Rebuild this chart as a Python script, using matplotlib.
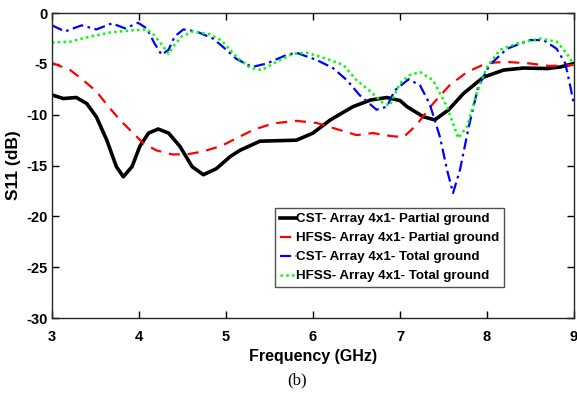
import matplotlib
matplotlib.use("Agg")
import matplotlib.pyplot as plt

# ---- data ----
f_cst_partial = [3.0, 3.13, 3.28, 3.4, 3.51, 3.63, 3.74, 3.82, 3.92, 4.01, 4.11, 4.22, 4.34,
                 4.47, 4.61, 4.74, 4.89, 5.05, 5.16, 5.39, 5.81, 6.0, 6.2, 6.46, 6.66, 6.85,
                 7.0, 7.08, 7.27, 7.4, 7.56, 7.73, 7.96, 8.19, 8.42, 8.69, 8.84, 9.0]
s_cst_partial = [-8.05, -8.4, -8.3, -8.9, -10.2, -12.5, -15.1, -16.1, -15.1, -13.1, -11.8,
                 -11.4, -11.8, -13.1, -15.1, -15.9, -15.3, -14.1, -13.5, -12.6, -12.5, -11.8,
                 -10.5, -9.2, -8.55, -8.3, -8.6, -9.2, -10.2, -10.5, -9.5, -7.9, -6.3, -5.6,
                 -5.4, -5.45, -5.3, -4.95]

f_hfss_partial = [3.0, 3.21, 3.36, 3.51, 3.65, 3.78, 3.92, 4.05, 4.2, 4.38, 4.55, 4.74, 4.95,
                  5.31, 5.54, 5.81, 6.04, 6.27, 6.5, 6.69, 6.9, 7.04, 7.19, 7.38, 7.57, 7.77,
                  8.0, 8.23, 8.49, 8.72, 9.0]
s_hfss_partial = [-4.9, -5.6, -6.6, -7.7, -9.2, -10.5, -11.7, -12.8, -13.5, -13.9, -13.9,
                  -13.6, -13.05, -11.5, -10.85, -10.6, -10.8, -11.4, -12.0, -11.8, -12.1,
                  -12.2, -11.0, -8.9, -7.1, -5.8, -4.9, -4.8, -4.95, -5.2, -5.1]

f_cst_total = [3.0, 3.15, 3.34, 3.51, 3.69, 3.84, 3.99, 4.09, 4.18, 4.26, 4.34, 4.41, 4.51,
               4.66, 4.85, 4.95, 5.12, 5.3, 5.47, 5.7, 5.81, 6.04, 6.23, 6.39, 6.54, 6.73,
               6.85, 6.94, 7.1, 7.23, 7.34, 7.46, 7.54, 7.61, 7.69, 7.79, 7.9, 8.03, 8.23,
               8.49, 8.65, 8.8, 8.9, 8.95, 9.0]
s_cst_total = [-1.2, -1.8, -1.2, -1.6, -1.0, -1.5, -0.95, -1.5, -3.0, -4.1, -3.6, -2.3, -1.6,
               -1.8, -2.5, -3.2, -4.5, -5.3, -4.95, -4.1, -3.9, -4.6, -5.4, -6.6, -8.1, -9.5,
               -9.2, -7.6, -6.5, -7.1, -8.9, -12.2, -15.4, -17.7, -15.4, -11.2, -7.2, -5.1,
               -3.5, -2.65, -2.65, -3.5, -4.95, -6.9, -9.0]

f_hfss_total = [3.0, 3.21, 3.44, 3.67, 3.9, 4.09, 4.18, 4.28, 4.34, 4.39, 4.49, 4.62, 4.82,
                4.95, 5.12, 5.28, 5.41, 5.58, 5.77, 5.93, 6.16, 6.35, 6.5, 6.66, 6.8, 6.88,
                7.0, 7.11, 7.23, 7.38, 7.54, 7.67, 7.77, 7.88, 8.0, 8.15, 8.34, 8.61, 8.8,
                8.92, 9.0]
s_hfss_total = [-2.9, -2.8, -2.3, -1.9, -1.7, -1.6, -2.2, -3.3, -4.0, -3.3, -2.3, -1.8, -2.1,
                -2.7, -4.3, -5.4, -5.6, -4.8, -4.0, -3.9, -4.5, -5.1, -6.6, -7.7, -8.8, -9.1,
                -6.9, -6.1, -5.8, -6.6, -9.2, -12.3, -11.2, -7.9, -5.3, -3.6, -3.0, -2.5,
                -2.8, -4.0, -5.1]

labels = ["CST- Array 4x1- Partial ground", "HFSS- Array 4x1- Partial ground",
          "CST- Array 4x1- Total ground", "HFSS- Array 4x1- Total ground"]

plt.rcParams["font.family"] = ["Liberation Sans", "DejaVu Sans"]
plt.rcParams["font.weight"] = "bold"
plt.rcParams["axes.unicode_minus"] = False
plt.rcParams["lines.solid_joinstyle"] = "round"
plt.rcParams["lines.dash_joinstyle"] = "round"

fig = plt.figure(figsize=(5.77, 3.99), dpi=100)
ax = fig.add_axes([0.0901, 0.203, 0.9047, 0.764])

ax.plot(f_cst_partial, s_cst_partial, color="black", lw=2.6, ls="-", label=labels[0])
ax.plot(f_hfss_partial, s_hfss_partial, color="red", lw=1.6, ls=(0, (5, 3.5)), label=labels[1])
ax.plot(f_cst_total, s_cst_total, color="blue", lw=1.6, ls=(0, (5, 2, 1.2, 2)), label=labels[2])
ax.plot(f_hfss_total, s_hfss_total, color="#00ff00", lw=1.8, ls=(0, (1, 1.3)), label=labels[3])

ax.set_xlim(3, 9)
ax.set_ylim(-30, 0)
ax.set_xticks(range(3, 10))
ax.set_yticks(range(-30, 1, 5))
ax.tick_params(direction="in", top=True, right=True, labelsize=10.5, length=5, width=1)
ax.tick_params(axis="x", pad=8.5)
ax.tick_params(axis="y", pad=3)
for lab in ax.get_xticklabels() + ax.get_yticklabels():
    lab.set_fontweight("bold")
for sp in ax.spines.values():
    sp.set_linewidth(1.0)
    sp.set_color("#262626")

ax.set_xlabel("Frequency (GHz)", fontsize=11.5, fontweight="bold", labelpad=4)
ax.set_ylabel("S11 (dB)", fontsize=12.5, fontweight="bold", labelpad=4)

leg = ax.legend(loc="lower left", bbox_to_anchor=(0.427, 0.102), fontsize=9.6,
                frameon=True, fancybox=False, handlelength=1.2, handletextpad=0.05,
                borderpad=0.35, labelspacing=0.5, borderaxespad=0)
leg.get_frame().set_edgecolor("#262626")
leg.get_frame().set_linewidth(1.0)
for t in leg.get_texts():
    t.set_fontweight("bold")

fig.text(0.515, 0.047, "(b)", fontsize=12, family="Liberation Serif",
         fontweight="normal", ha="center", va="center")

fig.savefig("out.png", dpi=100)
